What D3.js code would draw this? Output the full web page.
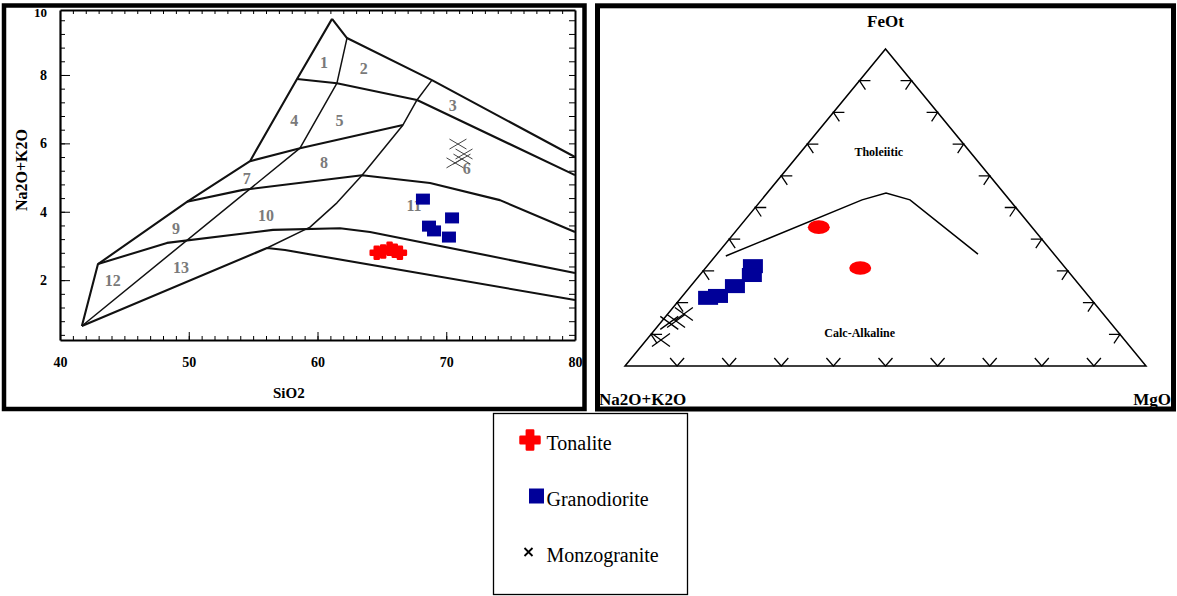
<!DOCTYPE html>
<html>
<head>
<meta charset="utf-8">
<script src="https://cdn.jsdelivr.net/npm/d3@7"></script>
<style>
    html, body { margin: 0; padding: 0; background: #fff; }
    svg { display: block; font-family: "Liberation Serif", "Times New Roman", serif; }
    .axis path, .axis line { stroke: #000; }
</style>
</head>
<body>
<div id="chartWrap"></div>
<script>
'use strict'

//#region Data
// TAS diagram (SiO2 vs Na2O+K2O)
const tasXTicks = [40, 50, 60, 70, 80];
const tasYTicks = [2, 4, 6, 8, 10];
const tasTonalite = [[64.6, 2.80], [65.1, 2.84], [65.6, 2.92], [66.0, 2.86], [66.4, 2.80]];
const tasGranodiorite = [[68.19, 4.37], [68.66, 3.58], [69.05, 3.44], [70.45, 3.82], [70.21, 3.26]];
const tasMonzogranite = [[70.91, 5.98], [71.38, 5.69], [71.22, 5.54], [70.68, 5.43]];

const tasOuterEdge = [[41.7, 0.66], [42.95, 2.47], [49.86, 4.29], [54.76, 5.48], [58.41, 7.88], [61.13, 9.64]];
const tasTopEdge = [[61.13, 9.64], [62.29, 9.08], [68.89, 7.85], [80, 5.6]];
const tasUpperLine = [[58.41, 7.88], [61.51, 7.76], [67.73, 7.27], [80, 5.07]];
const tasDiagonal = [[41.7, 0.66], [58.64, 5.86], [61.51, 7.76], [62.29, 9.08]];
const tasRightDiagonal = [[68.89, 7.85], [67.73, 7.27], [66.64, 6.54], [63.46, 5.07], [61.51, 4.26], [59.42, 3.55], [56.08, 2.94]];
const tasShortLine = [[54.76, 5.48], [58.64, 5.86], [66.64, 6.54]];
const tasMiddleLine = [[49.86, 4.29], [54.21, 4.64], [63.46, 5.07], [68.74, 4.84], [74.17, 4.34], [80, 3.41]];
const tasLowerLine = [[42.95, 2.47], [48.31, 3.09], [56.54, 3.47], [61.75, 3.52], [64.08, 3.41], [80, 2.21]];
const tasBottomLine = [[41.7, 0.66], [56.08, 2.94], [57.48, 2.88], [80, 1.42]];

const tasFieldNames = ['1', '2', '3', '4', '5', '6', '7', '8', '9', '10', '11', '12', '13'];
const tasFieldPos = [[60.5, 8.38], [63.6, 8.2], [70.5, 7.12], [58.2, 6.68], [61.7, 6.68], [71.6, 5.28],
    [54.5, 4.99], [60.5, 5.45], [49.0, 3.5], [56.0, 3.9], [67.5, 4.2], [44.1, 2.0], [49.4, 2.36]];

// AFM ternary diagram, values as [Na2O+K2O, FeOt, MgO] in %
const afmTonalite = [[40.9, 43.8, 15.3], [39.4, 30.9, 29.7]];
const afmGranodiorite = [[59.7, 31.5, 8.8], [61.3, 28.7, 10.0], [66.3, 25.2, 8.5], [71.1, 22.1, 6.8], [73.3, 21.5, 5.2]];
const afmMonzogranite = [[80.5, 16.4, 3.1], [83.1, 14.2, 2.7], [84.7, 13.6, 1.7], [89.0, 8.2, 2.8]];
const afmDivide = [[63.3, 34.7, 2.0], [28.3, 52.4, 19.3], [22.6, 54.6, 22.8], [19.1, 52.4, 28.5], [14.6, 35.3, 50.1]];
const afmTicks = [10, 20, 30, 40, 50, 60, 70, 80, 90];
const afmFieldNames = ['Tholeiitic', 'Calc-Alkaline'];
const afmFieldPos = [[18.2, 66.2, 15.6], [50.4, 9.1, 40.5]];

const legendNames = ['Tonalite', 'Granodiorite', 'Monzogranite'];
//#endregion Data

const red = '#ff0000', navy = '#000099';

let svg = d3.select('#chartWrap')
    .append('svg')
    .attr('width', 1177)
    .attr('height', 596);

//#region Panel frames
svg.append('rect')
    .attr('x', 4).attr('y', 5.5).attr('width', 580.5).attr('height', 403.5)
    .attr('fill', 'none').attr('stroke', '#000').attr('stroke-width', 4.5);
svg.append('rect')
    .attr('x', 597.5).attr('y', 5.8).attr('width', 576).attr('height', 403.2)
    .attr('fill', 'none').attr('stroke', '#000').attr('stroke-width', 5);
//#endregion

//#region TAS diagram
const x = d3.scaleLinear().domain([40, 80]).range([60, 575]);
const y = d3.scaleLinear().domain([0.25, 9.9]).range([340, 10]);

const tas = svg.append('g').attr('class', 'tas');

// minor ticks on all four sides
tas.append('g').attr('class', 'axis')
    .attr('transform', `translate(0,${y(0.25)})`)
    .call(d3.axisBottom(x).tickValues(d3.range(41, 80)).tickSize(-4).tickSizeOuter(0).tickFormat(''))
    .call(g => g.select('.domain').remove());
tas.append('g').attr('class', 'axis')
    .attr('transform', `translate(0,${y(9.9)})`)
    .call(d3.axisTop(x).tickValues(d3.range(41, 80)).tickSize(-4).tickSizeOuter(0).tickFormat(''))
    .call(g => g.select('.domain').attr('stroke-width', 2));
tas.append('g').attr('class', 'axis')
    .attr('transform', `translate(${x(40)},0)`)
    .call(d3.axisLeft(y).tickValues(d3.range(0.4, 9.9, 0.4)).tickSize(-5).tickSizeOuter(0).tickFormat(''))
    .call(g => g.select('.domain').remove());
tas.append('g').attr('class', 'axis')
    .attr('transform', `translate(${x(80)},0)`)
    .call(d3.axisRight(y).tickValues(d3.range(0.4, 9.9, 0.4)).tickSize(-6).tickSizeOuter(0).tickFormat(''))
    .call(g => g.select('.domain').attr('stroke-width', 2));

// major ticks + labels
tas.append('g').attr('class', 'axis axis-x')
    .attr('transform', `translate(0,${y(0.25)})`)
    .call(d3.axisBottom(x).tickValues(tasXTicks).tickSize(-8).tickSizeOuter(0).tickPadding(17))
    .call(g => g.select('.domain').attr('stroke-width', 2.2))
    .call(g => g.selectAll('text').attr('font-size', 14).attr('font-weight', 'bold')
        .attr('font-family', '"Liberation Serif", serif').attr('fill', '#000'));
tas.append('g').attr('class', 'axis axis-y')
    .attr('transform', `translate(${x(40)},0)`)
    .call(d3.axisLeft(y).tickValues(tasYTicks.slice(0, 4)).tickSize(-10).tickSizeOuter(0).tickPadding(13))
    .call(g => g.select('.domain').attr('stroke-width', 2.2))
    .call(g => g.selectAll('text').attr('font-size', 14).attr('font-weight', 'bold')
        .attr('font-family', '"Liberation Serif", serif').attr('fill', '#000'));
// top label sits just under the frame
tas.append('text')
    .attr('x', x(40) - 13).attr('y', y(tasYTicks[4]) + 10)
    .attr('text-anchor', 'end').attr('font-size', 13).attr('font-weight', 'bold')
    .text(tasYTicks[4]);

tas.append('text')
    .attr('transform', `translate(27,170) rotate(-90)`)
    .attr('text-anchor', 'middle').attr('font-size', 16).attr('font-weight', 'bold')
    .text('Na2O+K2O');
tas.append('text')
    .attr('x', 273).attr('y', 398)
    .attr('font-size', 15).attr('font-weight', 'bold')
    .text('SiO2');

// field boundaries
const tasLine = d3.line().x(d => x(d[0])).y(d => y(d[1]));
const tasLines = [tasOuterEdge, tasTopEdge, tasUpperLine, tasDiagonal, tasRightDiagonal,
    tasShortLine, tasMiddleLine, tasLowerLine, tasBottomLine];
tas.append('g').selectAll('path')
    .data(tasLines)
    .join('path')
    .attr('d', tasLine)
    .attr('fill', 'none')
    .attr('stroke', '#111')
    .attr('stroke-linejoin', 'round')
    .attr('stroke-width', (d, i) => (i === 3 || i === 4) ? 1.5 : 2.1);

tas.append('g').selectAll('text')
    .data(tasFieldNames)
    .join('text')
    .attr('x', (d, i) => x(tasFieldPos[i][0]))
    .attr('y', (d, i) => y(tasFieldPos[i][1]))
    .attr('dy', '0.35em')
    .attr('text-anchor', 'middle')
    .attr('font-size', 16).attr('font-weight', 'bold')
    .attr('fill', '#7a7a7a')
    .text(d => d);

// samples
tas.append('g').selectAll('path')
    .data(tasMonzogranite)
    .join('path')
    .attr('transform', d => `translate(${x(d[0])},${y(d[1])})`)
    .attr('d', 'M-8.5,-5L8.5,5M-8.5,5L8.5,-5')
    .attr('stroke', '#444').attr('stroke-width', 1).attr('fill', 'none');
tas.append('g').selectAll('rect')
    .data(tasGranodiorite)
    .join('rect')
    .attr('x', d => x(d[0]) - 7).attr('y', d => y(d[1]) - 5.5)
    .attr('width', 14).attr('height', 11)
    .attr('fill', navy);
tas.append('g').selectAll('path')
    .data(tasTonalite)
    .join('path')
    .attr('transform', d => `translate(${x(d[0])},${y(d[1])})`)
    .attr('d', d3.symbol().type(d3.symbolCross).size(80))
    .attr('fill', red)
    .attr('stroke', red).attr('stroke-width', 2.5).attr('stroke-linejoin', 'round');
//#endregion TAS diagram

//#region AFM ternary diagram
const tx = d3.scaleLinear().domain([0, 1]).range([625, 1146]);
const ty = d3.scaleLinear().domain([0, 1]).range([366, 49]);
// [alk, feo, mgo] -> pixel
const tern = d => {
    const s = d[0] + d[1] + d[2];
    const f = d[1] / s, m = d[2] / s;
    return [tx(m + f / 2), ty(f)];
};

const afm = svg.append('g').attr('class', 'afm');

afm.append('path')
    .attr('d', d3.line()([tern([100, 0, 0]), tern([0, 100, 0]), tern([0, 0, 100])]) + 'Z')
    .attr('fill', 'none').attr('stroke', '#000').attr('stroke-width', 1.5);

// tick marks along the three sides
const tickPaths = [];
afmTicks.forEach(k => {
    let p = tern([100 - k, 0, k]);
    tickPaths.push(`M${p[0] - 7},${p[1] - 8}L${p[0]},${p[1]}L${p[0] + 7},${p[1] - 8}`);
    p = tern([100 - k, k, 0]);
    tickPaths.push(`M${p[0] + 11},${p[1]}L${p[0]},${p[1]}L${p[0] + 6},${p[1] + 9}`);
    p = tern([0, k, 100 - k]);
    tickPaths.push(`M${p[0] - 11},${p[1]}L${p[0]},${p[1]}L${p[0] - 6},${p[1] + 9}`);
});
afm.append('g').selectAll('path')
    .data(tickPaths)
    .join('path')
    .attr('d', d => d)
    .attr('fill', 'none').attr('stroke', '#000').attr('stroke-width', 1.3);

afm.append('path')
    .attr('d', d3.line()(afmDivide.map(tern)))
    .attr('fill', 'none').attr('stroke', '#000').attr('stroke-width', 1.5);

afm.append('g').selectAll('text')
    .data(afmFieldNames)
    .join('text')
    .attr('x', (d, i) => tern(afmFieldPos[i])[0])
    .attr('y', (d, i) => tern(afmFieldPos[i])[1])
    .attr('text-anchor', 'middle')
    .attr('font-size', 12).attr('font-weight', 'bold')
    .text(d => d);

afm.append('text')
    .attr('x', tern([0, 100, 0])[0]).attr('y', 27)
    .attr('text-anchor', 'middle').attr('font-size', 17).attr('font-weight', 'bold')
    .text('FeOt');
afm.append('text')
    .attr('x', 599).attr('y', 405)
    .attr('font-size', 17).attr('font-weight', 'bold')
    .text('Na2O+K2O');
afm.append('text')
    .attr('x', 1171).attr('y', 405)
    .attr('text-anchor', 'end').attr('font-size', 17).attr('font-weight', 'bold')
    .text('MgO');

afm.append('g').selectAll('path')
    .data(afmMonzogranite)
    .join('path')
    .attr('transform', d => `translate(${tern(d)})`)
    .attr('d', 'M-9,-6.5L9,6.5M-9,6.5L9,-6.5')
    .attr('stroke', '#000').attr('stroke-width', 1.3).attr('fill', 'none');
afm.append('g').selectAll('rect')
    .data(afmGranodiorite)
    .join('rect')
    .attr('x', d => tern(d)[0] - 10).attr('y', d => tern(d)[1] - 7)
    .attr('width', 20).attr('height', 14)
    .attr('fill', navy);
afm.append('g').selectAll('ellipse')
    .data(afmTonalite)
    .join('ellipse')
    .attr('cx', d => tern(d)[0]).attr('cy', d => tern(d)[1])
    .attr('rx', 11).attr('ry', 6.8)
    .attr('fill', red);
//#endregion AFM ternary diagram

//#region Legend
const legend = svg.append('g').attr('class', 'legend');
legend.append('rect')
    .attr('x', 493.5).attr('y', 413.5).attr('width', 194).attr('height', 181)
    .attr('fill', '#fff').attr('stroke', '#000').attr('stroke-width', 1.3);

const legendY = d3.scalePoint().domain(legendNames).range([440, 552]);
legend.selectAll('text')
    .data(legendNames)
    .join('text')
    .attr('x', 546.5)
    .attr('y', d => legendY(d) + 10)
    .attr('font-size', 20)
    .text(d => d);

legend.append('path')
    .attr('transform', `translate(530,${legendY(legendNames[0])})`)
    .attr('d', d3.symbol().type(d3.symbolCross).size(200))
    .attr('fill', red)
    .attr('stroke', red).attr('stroke-width', 2.5).attr('stroke-linejoin', 'round');
legend.append('rect')
    .attr('x', 529).attr('y', legendY(legendNames[1]) - 7.5)
    .attr('width', 15).attr('height', 15)
    .attr('fill', navy);
legend.append('path')
    .attr('transform', `translate(528.5,${legendY(legendNames[2])})`)
    .attr('d', 'M-4,-4L4,4M-4,4L4,-4')
    .attr('stroke', '#000').attr('stroke-width', 1.8);
//#endregion Legend
</script>
</body>
</html>
